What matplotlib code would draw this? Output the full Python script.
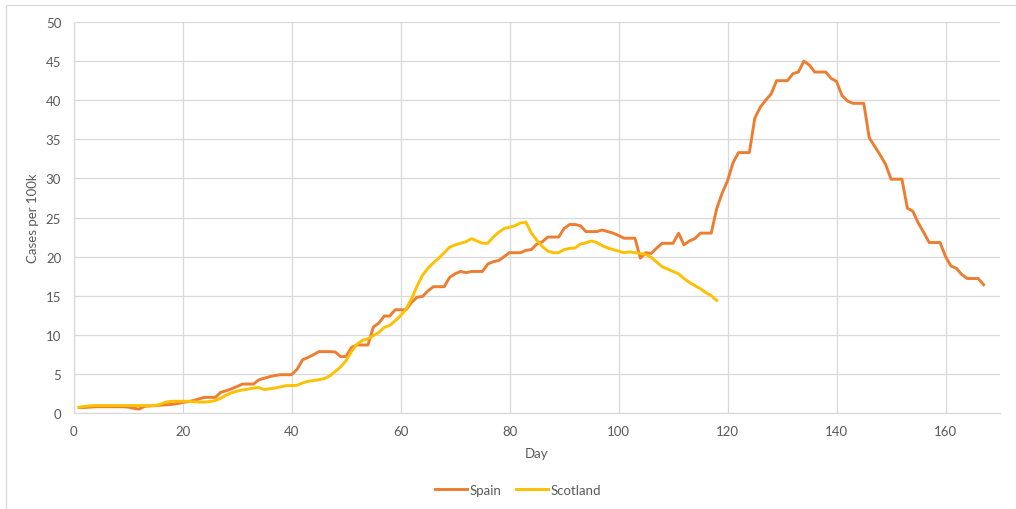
import numpy as np
import matplotlib
matplotlib.use('Agg')
import matplotlib.pyplot as plt
from matplotlib.patches import Rectangle

# --- data (cases per 100k by day) ---
spain = [
    0.7, 0.7, 0.75, 0.8, 0.8, 0.8, 0.8, 0.8, 0.8, 0.75,
    0.6, 0.5, 0.85, 0.9, 0.95, 1.0, 1.05, 1.1, 1.2, 1.35,
    1.45, 1.6, 1.8, 2.0, 2.0, 2.0, 2.65, 2.85, 3.1, 3.4,
    3.7, 3.7, 3.7, 4.25, 4.45, 4.65, 4.8, 4.9, 4.9, 4.9,
    5.6, 6.8, 7.1, 7.45, 7.85, 7.85, 7.85, 7.8, 7.2, 7.25,
    8.4, 8.7, 8.7, 8.7, 11.0, 11.5, 12.4, 12.4, 13.2, 13.2,
    13.2, 14.15, 14.8, 14.9, 15.6, 16.15, 16.15, 16.15, 17.35, 17.8,
    18.1, 17.95, 18.1, 18.1, 18.1, 19.05, 19.35, 19.5, 20.0, 20.5,
    20.5, 20.5, 20.8, 20.9, 21.6, 21.9, 22.5, 22.5, 22.5, 23.6,
    24.1, 24.1, 23.95, 23.2, 23.2, 23.2, 23.4, 23.2, 23.0, 22.7,
    22.35, 22.35, 22.35, 19.8, 20.5, 20.4, 21.1, 21.7, 21.7, 21.7,
    23.0, 21.5, 22.0, 22.3, 23.0, 23.0, 23.0, 26.1, 28.1, 29.7,
    32.0, 33.3, 33.3, 33.3, 37.7, 39.1, 40.0, 40.8, 42.5, 42.5,
    42.5, 43.4, 43.6, 45.0, 44.5, 43.6, 43.6, 43.6, 42.8, 42.4,
    40.6, 39.9, 39.6, 39.6, 39.6, 35.2, 34.1, 33.0, 31.8, 29.9,
    29.9, 29.9, 26.2, 25.8, 24.3, 23.1, 21.8, 21.8, 21.8, 20.0,
    18.8, 18.5, 17.7, 17.2, 17.2, 17.2, 16.4,
]
scotland = [
    0.75, 0.85, 0.92, 0.95, 0.95, 0.95, 0.95, 0.95, 0.95, 0.95,
    0.95, 0.95, 0.95, 0.95, 0.95, 1.15, 1.4, 1.5, 1.5, 1.5,
    1.5, 1.45, 1.4, 1.4, 1.45, 1.6, 1.9, 2.3, 2.6, 2.8,
    2.95, 3.05, 3.2, 3.25, 3.0, 3.1, 3.2, 3.35, 3.5, 3.5,
    3.55, 3.85, 4.05, 4.15, 4.25, 4.4, 4.75, 5.3, 5.9, 6.7,
    7.9, 8.8, 9.3, 9.5, 9.9, 10.3, 10.95, 11.2, 11.8, 12.45,
    13.3, 14.6, 16.2, 17.6, 18.5, 19.2, 19.8, 20.5, 21.2, 21.5,
    21.7, 21.9, 22.3, 22.0, 21.7, 21.7, 22.5, 23.1, 23.6, 23.75,
    23.95, 24.3, 24.4, 23.0, 22.1, 21.3, 20.7, 20.5, 20.5, 20.9,
    21.05, 21.1, 21.6, 21.75, 22.0, 21.8, 21.4, 21.1, 20.9, 20.7,
    20.5, 20.6, 20.5, 20.4, 20.25, 19.9, 19.3, 18.7, 18.4, 18.1,
    17.8, 17.2, 16.7, 16.3, 15.9, 15.4, 15.0, 14.4,
]
spain_days = np.arange(1, len(spain) + 1)
scotland_days = np.arange(1, len(scotland) + 1)

x_ticks = [0, 20, 40, 60, 80, 100, 120, 140, 160]
y_ticks = [0, 5, 10, 15, 20, 25, 30, 35, 40, 45, 50]

text_col = '#595959'
grid_col = '#D9D9D9'
plt.rcParams['font.family'] = ['Lato', 'DejaVu Sans']

fig = plt.figure(figsize=(10.16, 5.10), dpi=100)
W, H = 1016, 510
ax = fig.add_axes([73.7 / W, 1 - 414 / H, (1000 - 73.7) / W, (414 - 23) / H])

# outer chart frame (cut off at right/bottom like the screenshot)
fig.patches.append(Rectangle((6 / W, -0.1), 1.2, 1 - 6 / H + 0.1,
                             transform=fig.transFigure, fill=False,
                             edgecolor=grid_col, linewidth=0.9))

ax.plot(spain_days, spain, color='#ED7D31', linewidth=2.1, label='Spain')
ax.plot(scotland_days, scotland, color='#FFC000', linewidth=2.1, label='Scotland')

ax.set_xlim(0, 170)
ax.set_ylim(0, 50)
ax.set_xticks(x_ticks)
ax.set_yticks(y_ticks)
ax.grid(True, color=grid_col, linewidth=0.9)
ax.set_axisbelow(True)
for s in ['top', 'right']:
    ax.spines[s].set_visible(False)
for s in ['left', 'bottom']:
    ax.spines[s].set_color(grid_col)
    ax.spines[s].set_linewidth(0.9)
ax.tick_params(length=0, colors=text_col, labelsize=9.5, pad=9)

ax.set_xlabel('Day', color=text_col, fontsize=9.5, labelpad=7)
ax.set_ylabel('Cases per 100k', color=text_col, fontsize=9.5, labelpad=5)

fig.legend(loc='center', bbox_to_anchor=(518 / W, 1 - 491 / H), ncol=2,
           frameon=False, fontsize=9.5, labelcolor=text_col,
           handlelength=2.4, handletextpad=0.2, columnspacing=1.1)

fig.savefig('out.png', dpi=100)
